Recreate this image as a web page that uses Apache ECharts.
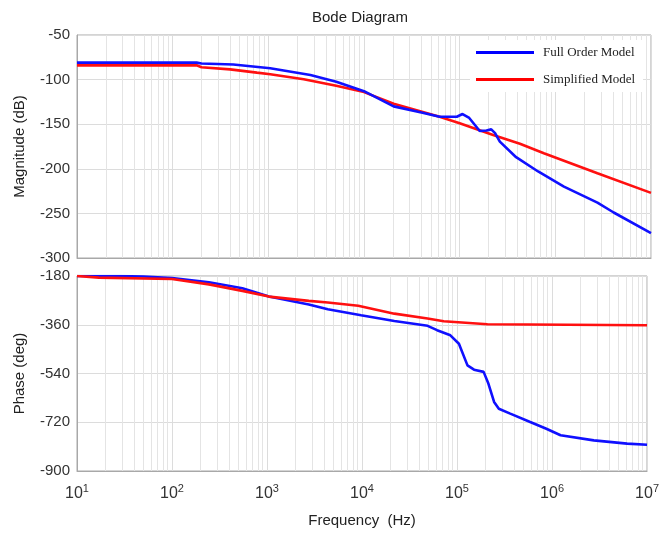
<!DOCTYPE html>
<html>
<head>
<meta charset="utf-8">
<script src="https://cdn.jsdelivr.net/npm/echarts@6/dist/echarts.min.js"></script>
<style>html,body{margin:0;padding:0;background:#fff}#c{width:662px;height:535px}</style>
</head>
<body>
<div id="c"></div>
<script>
// ---- data (frequency in Hz) ----
const magFullFreq = [10,178,200,430,1047,2754,5129,10000,20420,39810,61660,93330,107200,125900,162200,190500,213800,234400,263000,389000,660700,1230000,2754000,4074000,10000000];
const magFull     = [-81,-81,-82,-83,-87.3,-94.8,-102.3,-113,-130,-137,-141.6,-141.6,-138.6,-143,-157.6,-157,-155.8,-160,-169.6,-187,-203,-220,-238,-249,-272];
const magSimpFreq = [10,178,200,398,759,1047,2344,5129,10000,20420,61660,100000,223900,426600,758600,2754000,10000000];
const magSimp     = [-84,-84,-86.2,-88.5,-92.2,-94,-99.7,-107,-114,-127,-141.6,-149,-162,-172,-182.6,-205,-227];
const phFullFreq  = [10,28,50,100,245,550,1047,2754,4365,9772,21880,48980,61700,85100,104700,128800,151000,190500,213800,245500,275400,363100,588800,871000,1230000,2754000,6166000,10000000];
const phFull      = [-180,-180,-182,-188,-203,-225,-256,-285,-303,-325,-346,-364,-380,-399,-430,-510,-526,-534,-577,-645,-670,-688,-719,-744,-768,-787,-799,-803];
const phSimpFreq  = [10,17,100,245,550,1047,2754,4365,9120,21880,48980,72400,208900,10000000];
const phSimp      = [-180,-186,-191,-211,-235,-256,-272,-278,-290,-319,-337,-347,-358,-362];
const decades = [10,100,1000,10000,100000,1000000];
const minorMult = [2,3,4,5,6,7,8,9];
const seriesNames = ['Full Order Model','Simplified Model'];
const magTicks = {min:-300,max:-50,interval:50};
const phTicks = {min:-900,max:-180,interval:180};

const pairs = (f,v)=>f.map((x,i)=>[x,v[i]]);
const minorLines = [];
decades.forEach(d=>minorMult.forEach(m=>minorLines.push({xAxis:d*m})));

const font = 'Liberation Sans, Arial, sans-serif';
const gridCol = '#dcdcdc';
const minorCol = '#e4e4e4';

function xAx(gi, show){
  return {
    type:'log', logBase:10, min:10, max:1e7, gridIndex:gi,
    axisLine:{show:true,lineStyle:{color:'#a8a8a8',width:1}},
    axisTick:{show:false},
    splitLine:{show:true,lineStyle:{color:gridCol,width:1}},
    axisLabel:{show:show, margin:12, color:'#333', fontFamily:font, fontSize:16,
      formatter:function(v){const e=Math.round(Math.log10(v));return '10{s|'+e+'}';},
      rich:{s:{fontSize:11,fontFamily:font,color:'#333',verticalAlign:'top',padding:[0,0,10,0]}}},
    name: show ? 'Frequency  (Hz)' : '',
    nameLocation:'middle', nameGap:42,
    nameTextStyle:{color:'#222',fontFamily:font,fontSize:15}
  };
}
function yAx(gi, t, name){
  return {
    type:'value', gridIndex:gi, min:t.min, max:t.max, interval:t.interval,
    axisLine:{show:true,lineStyle:{color:'#a8a8a8',width:1}},
    axisTick:{show:false},
    splitLine:{show:true,lineStyle:{color:gridCol,width:1}},
    axisLabel:{color:'#333',fontFamily:font,fontSize:15,margin:7},
    name:name, nameLocation:'middle', nameGap:50,
    nameTextStyle:{color:'#222',fontFamily:font,fontSize:15}
  };
}
function minorSeries(xi, yi){
  return {type:'line', xAxisIndex:xi, yAxisIndex:yi, data:[], silent:true, z:0, zlevel:0,
    markLine:{silent:true, symbol:'none', label:{show:false}, z:0,
      lineStyle:{color:minorCol,type:'solid',width:1}, data:minorLines, animation:false}};
}
const lineStyleOf = c => ({color:c,width:2.6});

const chart = echarts.init(document.getElementById('c'), null, {renderer:'canvas'});
chart.setOption({
  animation:false,
  backgroundColor:'#fff',
  title:{text:'Bode Diagram', left:307, top:5, textStyle:{fontFamily:font,fontSize:15,fontWeight:'normal',color:'#222'}},
  legend:{
    data:seriesNames, orient:'vertical', left:470, top:40, itemWidth:58, itemHeight:3, itemGap:14, z:10,
    icon:'rect', backgroundColor:'#fff', padding:[6,8,6,6],
    textStyle:{fontFamily:'Liberation Serif, Times New Roman, serif',fontSize:13,color:'#222',padding:[0,0,0,4]}
  },
  grid:[
    {left:77,top:35,width:574,height:223,show:true,borderColor:'#a8a8a8',borderWidth:1},
    {left:77,top:276,width:574,height:195,show:true,borderColor:'#a8a8a8',borderWidth:1}
  ],
  xAxis:[xAx(0,false), xAx(1,true)],
  yAxis:[yAx(0,magTicks,'Magnitude (dB)'), yAx(1,phTicks,'Phase (deg)')],
  series:[
    minorSeries(0,0), minorSeries(1,1),
    {name:seriesNames[0],type:'line',xAxisIndex:0,yAxisIndex:0,showSymbol:false,symbol:'none',color:'#0000ff',lineStyle:lineStyleOf('#1010ff'),data:pairs(magFullFreq,magFull),z:4},
    {name:seriesNames[1],type:'line',xAxisIndex:0,yAxisIndex:0,showSymbol:false,symbol:'none',color:'#ff0000',lineStyle:lineStyleOf('#ff1010'),data:pairs(magSimpFreq,magSimp),z:3},
    {name:seriesNames[0],type:'line',xAxisIndex:1,yAxisIndex:1,showSymbol:false,symbol:'none',color:'#0000ff',lineStyle:lineStyleOf('#1010ff'),data:pairs(phFullFreq,phFull),z:3},
    {name:seriesNames[1],type:'line',xAxisIndex:1,yAxisIndex:1,showSymbol:false,symbol:'none',color:'#ff0000',lineStyle:lineStyleOf('#ff1010'),data:pairs(phSimpFreq,phSimp),z:4}
  ]
});
</script>
</body>
</html>
